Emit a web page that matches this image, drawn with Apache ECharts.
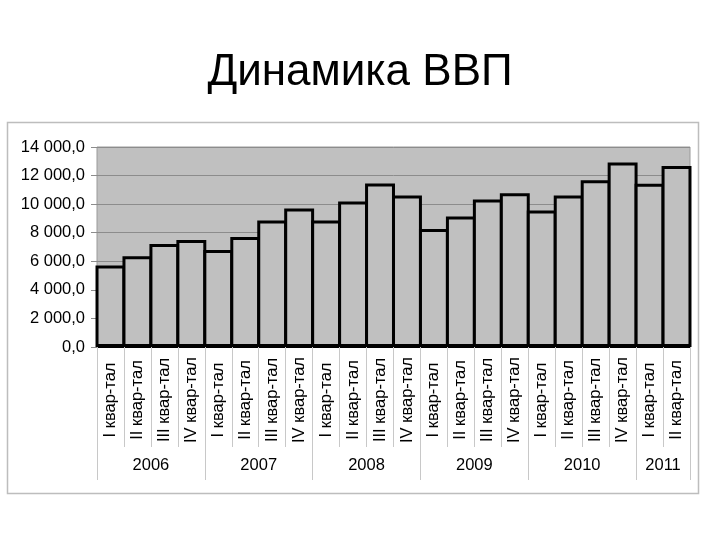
<!DOCTYPE html>
<html>
<head>
<meta charset="utf-8">
<script src="https://cdn.jsdelivr.net/npm/echarts@6/dist/echarts.min.js"></script>
<style>
html,body{margin:0;padding:0;background:#fff;}
#chart{width:720px;height:540px;}
</style>
</head>
<body>
<div id="chart"></div>
<script>
// ---- data ----
var titleText = 'Динамика ВВП';
var quarterNames = ['I', 'II', 'III', 'IV'];
var years = ['2006', '2007', '2008', '2009', '2010', '2011'];
var quartersPerYear = [4, 4, 4, 4, 4, 2];
var gdpValues = [
  5700, 6350, 7210, 7490,
  6790, 7700, 8850, 9690,
  8850, 10180, 11450, 10600,
  8260, 9130, 10320, 10770,
  9550, 10600, 11680, 12920,
  11420, 12665
];
var yTicks = { min: 0, max: 14000, interval: 2000 };

// ---- derived category labels ----
var quarterLabels = [];
quartersPerYear.forEach(function (n) {
  for (var i = 0; i < n; i++) quarterLabels.push(quarterNames[i] + ' квар-тал');
});
// year axis: boundary positions 0..N, label at group centre, tick at group edges
var total = quarterLabels.length;
var yearSlots = [];
for (var k = 0; k <= total; k++) yearSlots.push('');
var yearTickIdx = {0: true};
var yearLabelIdx = {};
var pos = 0;
years.forEach(function (y, i) {
  var c = pos + quartersPerYear[i] / 2;
  yearSlots[c] = y;
  yearLabelIdx[c] = true;
  pos += quartersPerYear[i];
  yearTickIdx[pos] = true;
});

function fmt(v) {
  var s = String(Math.round(v));
  s = s.replace(/\B(?=(\d{3})+(?!\d))/g, ' ');
  return s + ',0';
}

var FONT = 'Liberation Sans, Arial, sans-serif';
var chart = echarts.init(document.getElementById('chart'), null, {renderer: 'canvas'});
chart.setOption({
  backgroundColor: '#ffffff',
  animation: false,
  title: {
    text: titleText,
    left: 'center',
    top: 46,
    textStyle: { fontFamily: FONT, fontSize: 44, fontWeight: 'normal', color: '#000' }
  },
  graphic: [{
    type: 'rect',
    shape: { x: 7.5, y: 122.5, width: 691, height: 371 },
    style: { fill: 'none', stroke: '#bdbdbd', lineWidth: 1.5 },
    silent: true,
    z: -1
  }],
  grid: {
    left: 97, right: 30, top: 147, bottom: 193,
    show: true,
    backgroundColor: '#c0c0c0',
    borderColor: '#9a9a9a',
    borderWidth: 1
  },
  xAxis: [{
    type: 'category',
    data: quarterLabels,
    position: 'bottom',
    axisLine: { show: true, lineStyle: { color: '#000', width: 1 } },
    axisTick: { show: true, length: 100, lineStyle: { color: '#c8c8c8', width: 1 } },
    axisLabel: {
      rotate: 90,
      interval: 0,
      align: 'center',
      verticalAlign: 'middle',
      margin: 53,
      fontFamily: FONT,
      fontSize: 16.5,
      color: '#000'
    },
    splitLine: { show: false }
  }, {
    type: 'category',
    data: yearSlots,
    position: 'bottom',
    boundaryGap: false,
    axisLine: { show: false },
    axisTick: {
      show: true,
      length: 133,
      interval: function (idx) { return !!yearTickIdx[idx]; },
      lineStyle: { color: '#c8c8c8', width: 1 }
    },
    axisLabel: {
      interval: function (idx) { return !!yearLabelIdx[idx]; },
      margin: 110,
      fontFamily: FONT,
      fontSize: 16.5,
      color: '#000'
    },
    splitLine: { show: false }
  }],
  yAxis: {
    type: 'value',
    min: yTicks.min,
    max: yTicks.max,
    interval: yTicks.interval,
    axisLine: { show: false },
    axisTick: { show: true, length: 6, lineStyle: { color: '#8c8c8c' } },
    axisLabel: {
      margin: 12,
      fontFamily: FONT,
      fontSize: 16.5,
      color: '#000',
      formatter: fmt
    },
    splitLine: { show: true, lineStyle: { color: '#8c8c8c', width: 1 } }
  },
  series: [{
    type: 'bar',
    xAxisIndex: 0,
    data: gdpValues,
    barCategoryGap: '-11%',
    itemStyle: { color: '#c0c0c0', borderColor: '#000', borderWidth: 3 },
    emphasis: { disabled: true }
  }]
});
</script>
</body>
</html>
